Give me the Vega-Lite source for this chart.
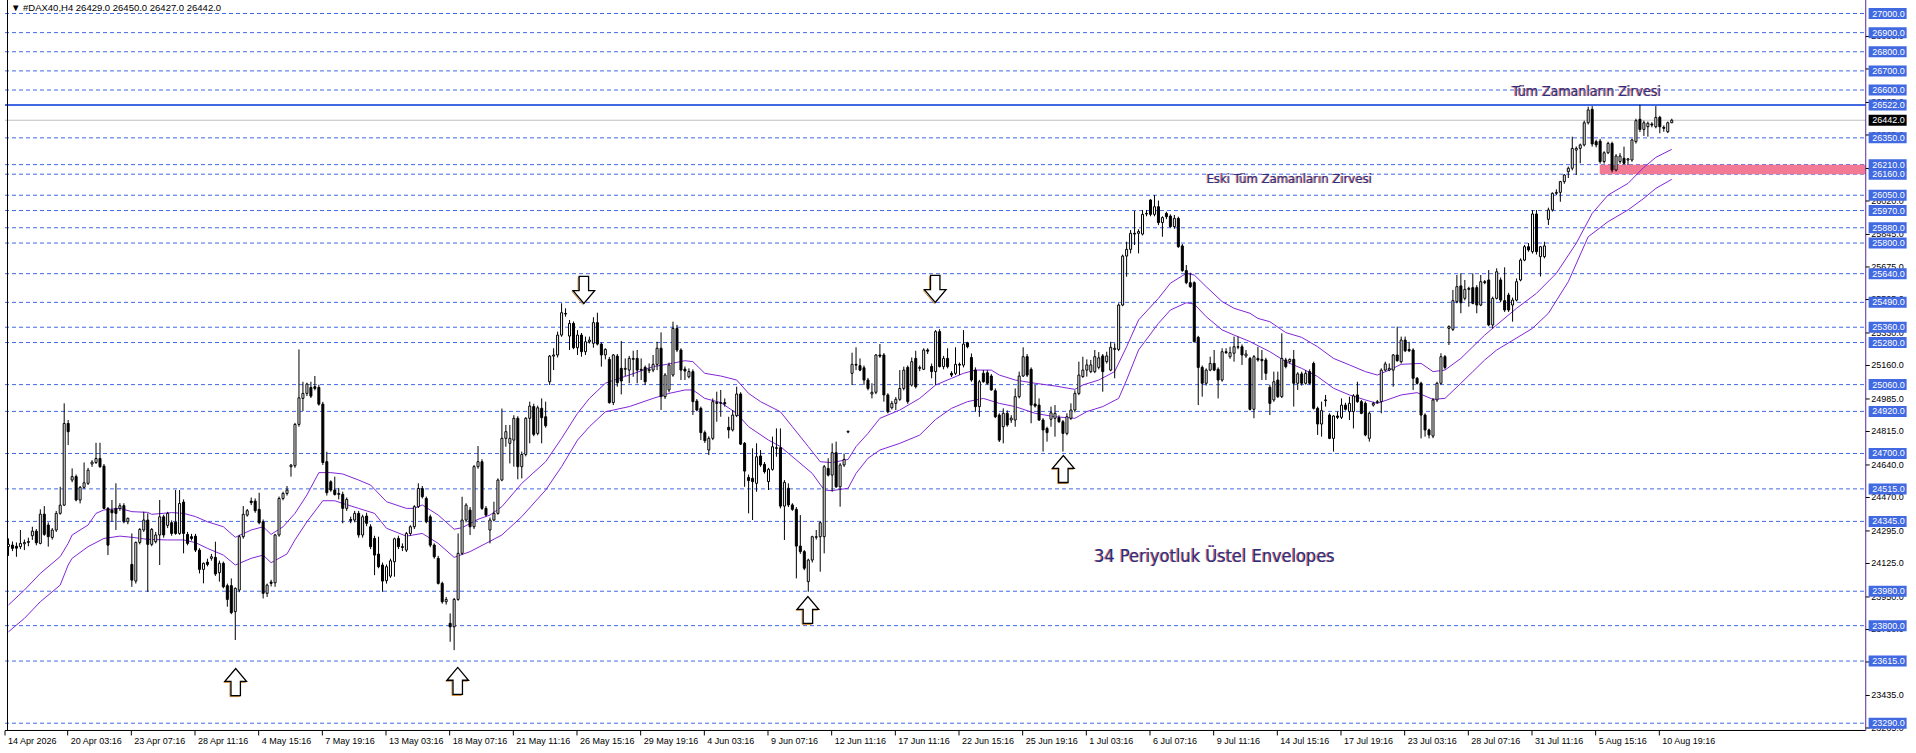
{
"$schema":"https://vega.github.io/schema/vega-lite/v6.json",
"width":1916,"height":731,
"autosize":{"type":"none"},
"padding":{"left":0,"top":0,"right":0,"bottom":22},
"background":"#ffffff",
"config":{"view":{"stroke":null}},
"datasets":{
"lv":[{"p":27000},{"p":26900},{"p":26800},{"p":26700},{"p":26600},{"p":26350},{"p":26210},{"p":26160},{"p":26050},{"p":25970},{"p":25880},{"p":25800},{"p":25640},{"p":25490},{"p":25360},{"p":25280},{"p":25060},{"p":24920},{"p":24700},{"p":24515},{"p":24345},{"p":23980},{"p":23800},{"p":23615},{"p":23290}],
"bx":[{"p":27000},{"p":26900},{"p":26800},{"p":26700},{"p":26600},{"p":26522},{"p":26350},{"p":26210},{"p":26160},{"p":26050},{"p":25970},{"p":25880},{"p":25800},{"p":25640},{"p":25490},{"p":25360},{"p":25280},{"p":25060},{"p":24920},{"p":24700},{"p":24515},{"p":24345},{"p":23980},{"p":23800},{"p":23615},{"p":23290}],
"tk":[{"p":23265},{"p":23435},{"p":23610},{"p":23780},{"p":23950},{"p":24125},{"p":24295},{"p":24470},{"p":24640},{"p":24815},{"p":24985},{"p":25160},{"p":25330},{"p":25505},{"p":25675},{"p":25845},{"p":26020},{"p":26190},{"p":26365},{"p":26535},{"p":26710},{"p":26880}],
"dates":[{"j":-0.875,"t":"14 Apr 2026"},{"j":14.875,"t":"20 Apr 03:16"},{"j":30.875,"t":"23 Apr 07:16"},{"j":46.875,"t":"28 Apr 11:16"},{"j":62.875,"t":"4 May 15:16"},{"j":78.875,"t":"7 May 19:16"},{"j":94.875,"t":"13 May 03:16"},{"j":110.875,"t":"18 May 07:16"},{"j":126.875,"t":"21 May 11:16"},{"j":142.875,"t":"26 May 15:16"},{"j":158.875,"t":"29 May 19:16"},{"j":174.875,"t":"4 Jun 03:16"},{"j":190.875,"t":"9 Jun 07:16"},{"j":206.875,"t":"12 Jun 11:16"},{"j":222.875,"t":"17 Jun 11:16"},{"j":238.875,"t":"22 Jun 15:16"},{"j":254.875,"t":"25 Jun 19:16"},{"j":270.875,"t":"1 Jul 03:16"},{"j":286.875,"t":"6 Jul 07:16"},{"j":302.875,"t":"9 Jul 11:16"},{"j":318.875,"t":"14 Jul 15:16"},{"j":334.875,"t":"17 Jul 19:16"},{"j":350.875,"t":"23 Jul 03:16"},{"j":366.875,"t":"28 Jul 07:16"},{"j":382.875,"t":"31 Jul 11:16"},{"j":398.875,"t":"5 Aug 15:16"},{"j":414.875,"t":"10 Aug 19:16"}],
"cur":[{"p":26442}],
"ath":[{"p":26522}],
"zone":[{"p":26160,"p2":26210}],
"arrows":[{"j":57.1,"p":23505,"d":"up"},{"j":112.9,"p":23511,"d":"up"},{"j":144.6,"p":25555,"d":"down"},{"j":200.9,"p":23882,"d":"up"},{"j":232.9,"p":25560,"d":"down"},{"j":265.1,"p":24619,"d":"up"}],
"notes":[{"j":396.6,"p":26590,"t":"Tüm Zamanların Zirvesi"}],
"notes1":[{"j":321.9,"p":26135,"t":"Eski Tüm Zamanların Zirvesi"}],
"notes2":[{"j":303.1,"p":24159,"t":"34 Periyotluk Üstel Envelopes"}],
"title":[{"j":0.625,"p":27028,"t":"▼ #DAX40,H4 26429.0 26450.0 26427.0 26442.0"}],
"envU":[{"j":0,"p":23908},{"j":4,"p":23986},{"j":8,"p":24073},{"j":13,"p":24161},{"j":15,"p":24230},{"j":16,"p":24274},{"j":20,"p":24326},{"j":22,"p":24387},{"j":24,"p":24405},{"j":28,"p":24413},{"j":31,"p":24396},{"j":35,"p":24392},{"j":36,"p":24382},{"j":41,"p":24391},{"j":44,"p":24387},{"j":47,"p":24370},{"j":50,"p":24343},{"j":54,"p":24317},{"j":57,"p":24262},{"j":61,"p":24300},{"j":64,"p":24317},{"j":66,"p":24277},{"j":69,"p":24317},{"j":72,"p":24387},{"j":75,"p":24483},{"j":78,"p":24600},{"j":81,"p":24600},{"j":84,"p":24593},{"j":88,"p":24561},{"j":91,"p":24535},{"j":95,"p":24448},{"j":100,"p":24413},{"j":102,"p":24413},{"j":104,"p":24431},{"j":108,"p":24378},{"j":112,"p":24304},{"j":114,"p":24312},{"j":118,"p":24356},{"j":121,"p":24378},{"j":124,"p":24422},{"j":129,"p":24544},{"j":135,"p":24657},{"j":139,"p":24779},{"j":143,"p":24910},{"j":146,"p":24988},{"j":150,"p":25067},{"j":151,"p":25075},{"j":156,"p":25110},{"j":162,"p":25154},{"j":166,"p":25168},{"j":170,"p":25185},{"j":172,"p":25180},{"j":175,"p":25119},{"j":179,"p":25105},{"j":183,"p":25084},{"j":186,"p":25014},{"j":189,"p":24971},{"j":194,"p":24918},{"j":197,"p":24840},{"j":201,"p":24736},{"j":204,"p":24657},{"j":207,"p":24652},{"j":211,"p":24669},{"j":213,"p":24736},{"j":216,"p":24805},{"j":219,"p":24884},{"j":224,"p":24927},{"j":229,"p":24988},{"j":233,"p":25058},{"j":237,"p":25093},{"j":240,"p":25119},{"j":243,"p":25136},{"j":247,"p":25136},{"j":249,"p":25110},{"j":253,"p":25084},{"j":258,"p":25067},{"j":263,"p":25053},{"j":268,"p":25035},{"j":270,"p":25058},{"j":274,"p":25084},{"j":278,"p":25128},{"j":281,"p":25258},{"j":284,"p":25398},{"j":289,"p":25511},{"j":292,"p":25590},{"j":296,"p":25642},{"j":298,"p":25633},{"j":301,"p":25572},{"j":305,"p":25494},{"j":308,"p":25459},{"j":312,"p":25433},{"j":314,"p":25406},{"j":317,"p":25389},{"j":321,"p":25332},{"j":325,"p":25307},{"j":329,"p":25258},{"j":333,"p":25197},{"j":337,"p":25163},{"j":341,"p":25128},{"j":344,"p":25110},{"j":347,"p":25136},{"j":350,"p":25166},{"j":355,"p":25171},{"j":358,"p":25128},{"j":361,"p":25136},{"j":365,"p":25197},{"j":368,"p":25258},{"j":371,"p":25319},{"j":374,"p":25372},{"j":379,"p":25459},{"j":384,"p":25537},{"j":389,"p":25642},{"j":394,"p":25799},{"j":398,"p":25955},{"j":402,"p":26051},{"j":407,"p":26112},{"j":411,"p":26196},{"j":414,"p":26248},{"j":418,"p":26290}],
"envL":[{"j":0,"p":23768},{"j":4,"p":23838},{"j":8,"p":23925},{"j":13,"p":24012},{"j":15,"p":24117},{"j":16,"p":24152},{"j":20,"p":24213},{"j":24,"p":24256},{"j":28,"p":24268},{"j":31,"p":24262},{"j":35,"p":24251},{"j":40,"p":24248},{"j":44,"p":24248},{"j":47,"p":24234},{"j":50,"p":24204},{"j":54,"p":24169},{"j":57,"p":24117},{"j":61,"p":24152},{"j":64,"p":24169},{"j":66,"p":24129},{"j":70,"p":24175},{"j":72,"p":24248},{"j":75,"p":24343},{"j":79,"p":24453},{"j":82,"p":24453},{"j":84,"p":24439},{"j":88,"p":24413},{"j":92,"p":24387},{"j":95,"p":24309},{"j":100,"p":24268},{"j":104,"p":24282},{"j":108,"p":24230},{"j":112,"p":24157},{"j":116,"p":24187},{"j":120,"p":24230},{"j":124,"p":24274},{"j":129,"p":24370},{"j":135,"p":24509},{"j":139,"p":24631},{"j":143,"p":24770},{"j":146,"p":24840},{"j":150,"p":24918},{"j":156,"p":24945},{"j":162,"p":24988},{"j":166,"p":25014},{"j":170,"p":25032},{"j":172,"p":25032},{"j":175,"p":24988},{"j":179,"p":24966},{"j":183,"p":24910},{"j":186,"p":24840},{"j":191,"p":24770},{"j":194,"p":24736},{"j":198,"p":24666},{"j":202,"p":24596},{"j":205,"p":24509},{"j":207,"p":24506},{"j":211,"p":24518},{"j":213,"p":24596},{"j":216,"p":24675},{"j":219,"p":24718},{"j":224,"p":24753},{"j":229,"p":24796},{"j":233,"p":24878},{"j":237,"p":24936},{"j":241,"p":24971},{"j":245,"p":24988},{"j":249,"p":24962},{"j":253,"p":24945},{"j":258,"p":24910},{"j":263,"p":24892},{"j":268,"p":24884},{"j":271,"p":24919},{"j":275,"p":24945},{"j":279,"p":24988},{"j":281,"p":25084},{"j":284,"p":25241},{"j":289,"p":25380},{"j":292,"p":25450},{"j":296,"p":25488},{"j":298,"p":25481},{"j":301,"p":25415},{"j":305,"p":25346},{"j":308,"p":25319},{"j":312,"p":25285},{"j":317,"p":25232},{"j":321,"p":25180},{"j":325,"p":25145},{"j":329,"p":25102},{"j":333,"p":25041},{"j":337,"p":25006},{"j":341,"p":24980},{"j":344,"p":24962},{"j":350,"p":25006},{"j":354,"p":25018},{"j":358,"p":24983},{"j":361,"p":24988},{"j":365,"p":25067},{"j":368,"p":25128},{"j":371,"p":25189},{"j":374,"p":25241},{"j":383,"p":25354},{"j":387,"p":25433},{"j":392,"p":25598},{"j":397,"p":25833},{"j":402,"p":25912},{"j":407,"p":25973},{"j":411,"p":26034},{"j":414,"p":26086},{"j":418,"p":26133}],
"bars":[
{"j":0,"o":24213,"h":24256,"l":24165,"c":24225},{"j":1,"o":24221,"h":24240,"l":24190,"c":24204},{"j":2,"o":24215,"h":24235,"l":24160,"c":24205},{"j":3,"o":24213,"h":24300,"l":24200,"c":24230},{"j":4,"o":24228,"h":24250,"l":24195,"c":24235},{"j":5,"o":24235,"h":24260,"l":24215,"c":24240},{"j":6,"o":24270,"h":24317,"l":24248,"c":24294},{"j":7,"o":24294,"h":24305,"l":24220,"c":24233},{"j":8,"o":24230,"h":24408,"l":24225,"c":24383},{"j":9,"o":24383,"h":24425,"l":24270,"c":24277},
{"j":10,"o":24326,"h":24340,"l":24213,"c":24265},{"j":11,"o":24261,"h":24310,"l":24250,"c":24300},{"j":12,"o":24300,"h":24400,"l":24290,"c":24387},{"j":13,"o":24387,"h":24526,"l":24380,"c":24430},{"j":14,"o":24430,"h":24962,"l":24425,"c":24857},{"j":15,"o":24857,"h":24875,"l":24744,"c":24814},{"j":16,"o":24561,"h":24622,"l":24550,"c":24579},{"j":17,"o":24579,"h":24590,"l":24450,"c":24457},{"j":18,"o":24457,"h":24530,"l":24439,"c":24523},{"j":19,"o":24523,"h":24653,"l":24515,"c":24547},
{"j":20,"o":24544,"h":24625,"l":24535,"c":24613},{"j":21,"o":24645,"h":24665,"l":24630,"c":24655},{"j":22,"o":24653,"h":24756,"l":24645,"c":24674},{"j":23,"o":24674,"h":24756,"l":24625,"c":24631},{"j":24,"o":24634,"h":24645,"l":24410,"c":24413},{"j":25,"o":24413,"h":24420,"l":24169,"c":24221},{"j":26,"o":24404,"h":24457,"l":24343,"c":24390},{"j":27,"o":24413,"h":24544,"l":24300,"c":24387},{"j":28,"o":24413,"h":24440,"l":24400,"c":24427},{"j":29,"o":24427,"h":24440,"l":24335,"c":24343},
{"j":30,"o":24343,"h":24365,"l":24330,"c":24361},{"j":31,"o":24120,"h":24282,"l":24003,"c":24038},{"j":32,"o":24033,"h":24240,"l":24020,"c":24235},{"j":33,"o":24235,"h":24310,"l":24225,"c":24303},{"j":34,"o":24300,"h":24396,"l":24290,"c":24352},{"j":35,"o":24352,"h":24387,"l":23977,"c":24225},{"j":36,"o":24225,"h":24310,"l":24215,"c":24303},{"j":37,"o":24239,"h":24290,"l":24230,"c":24274},{"j":38,"o":24274,"h":24457,"l":24117,"c":24369},{"j":39,"o":24369,"h":24380,"l":24260,"c":24274},
{"j":40,"o":24324,"h":24395,"l":24310,"c":24387},{"j":41,"o":24338,"h":24350,"l":24270,"c":24282},{"j":42,"o":24341,"h":24509,"l":24275,"c":24282},{"j":43,"o":24282,"h":24509,"l":24275,"c":24439},{"j":44,"o":24446,"h":24460,"l":24178,"c":24282},{"j":45,"o":24277,"h":24290,"l":24220,"c":24230},{"j":46,"o":24265,"h":24280,"l":24245,"c":24256},{"j":47,"o":24268,"h":24280,"l":24185,"c":24195},{"j":48,"o":24195,"h":24205,"l":24073,"c":24094},{"j":49,"o":24094,"h":24130,"l":24021,"c":24126},
{"j":50,"o":24132,"h":24150,"l":24110,"c":24120},{"j":51,"o":24152,"h":24175,"l":24140,"c":24160},{"j":52,"o":24157,"h":24239,"l":24060,"c":24070},{"j":53,"o":24077,"h":24140,"l":24030,"c":24126},{"j":54,"o":24126,"h":24135,"l":23995,"c":24003},{"j":55,"o":24009,"h":24020,"l":23899,"c":23937},{"j":56,"o":24009,"h":24047,"l":23860,"c":23868},{"j":57,"o":23873,"h":24000,"l":23725,"c":23995},{"j":58,"o":23986,"h":24275,"l":23975,"c":24265},{"j":59,"o":24265,"h":24425,"l":24255,"c":24382},
{"j":60,"o":24378,"h":24410,"l":24370,"c":24401},{"j":61,"o":24451,"h":24470,"l":24430,"c":24443},{"j":62,"o":24451,"h":24465,"l":24390,"c":24401},{"j":63,"o":24408,"h":24495,"l":24330,"c":24338},{"j":64,"o":24343,"h":24355,"l":23942,"c":23969},{"j":65,"o":23969,"h":24020,"l":23950,"c":24012},{"j":66,"o":24028,"h":24040,"l":24005,"c":24021},{"j":67,"o":24024,"h":24280,"l":24003,"c":24274},{"j":68,"o":24274,"h":24475,"l":24265,"c":24465},{"j":69,"o":24465,"h":24500,"l":24455,"c":24491},
{"j":70,"o":24491,"h":24530,"l":24480,"c":24509},{"j":71,"o":24631,"h":24645,"l":24579,"c":24639},{"j":72,"o":24636,"h":24860,"l":24625,"c":24852},{"j":73,"o":24852,"h":25244,"l":24840,"c":24991},{"j":74,"o":24988,"h":25075,"l":24922,"c":25014},{"j":75,"o":25014,"h":25070,"l":25000,"c":25063},{"j":76,"o":25045,"h":25075,"l":24990,"c":25000},{"j":77,"o":25049,"h":25105,"l":25030,"c":25040},{"j":78,"o":25045,"h":25060,"l":24950,"c":24958},{"j":79,"o":24958,"h":24970,"l":24640,"c":24653},
{"j":80,"o":24657,"h":24709,"l":24480,"c":24495},{"j":81,"o":24552,"h":24560,"l":24500,"c":24509},{"j":82,"o":24509,"h":24579,"l":24480,"c":24486},{"j":83,"o":24486,"h":24520,"l":24460,"c":24491},{"j":84,"o":24486,"h":24500,"l":24335,"c":24413},{"j":85,"o":24413,"h":24470,"l":24400,"c":24460},{"j":86,"o":24355,"h":24370,"l":24335,"c":24350},{"j":87,"o":24352,"h":24400,"l":24340,"c":24387},{"j":88,"o":24387,"h":24400,"l":24260,"c":24274},{"j":89,"o":24274,"h":24380,"l":24260,"c":24369},
{"j":90,"o":24373,"h":24390,"l":24320,"c":24335},{"j":91,"o":24317,"h":24330,"l":24200,"c":24213},{"j":92,"o":24256,"h":24270,"l":24064,"c":24169},{"j":93,"o":24174,"h":24265,"l":24100,"c":24108},{"j":94,"o":24117,"h":24130,"l":23977,"c":24033},{"j":95,"o":24035,"h":24120,"l":24020,"c":24108},{"j":96,"o":24059,"h":24150,"l":24050,"c":24139},{"j":97,"o":24134,"h":24260,"l":24056,"c":24254},{"j":98,"o":24256,"h":24270,"l":24200,"c":24213},{"j":99,"o":24213,"h":24230,"l":24190,"c":24209},
{"j":100,"o":24195,"h":24290,"l":24185,"c":24282},{"j":101,"o":24282,"h":24325,"l":24270,"c":24317},{"j":102,"o":24317,"h":24430,"l":24305,"c":24422},{"j":103,"o":24422,"h":24544,"l":24415,"c":24517},{"j":104,"o":24517,"h":24530,"l":24465,"c":24474},{"j":105,"o":24465,"h":24475,"l":24335,"c":24343},{"j":106,"o":24369,"h":24380,"l":24210,"c":24221},{"j":107,"o":24221,"h":24230,"l":24150,"c":24160},{"j":108,"o":24152,"h":24165,"l":24015,"c":24021},{"j":109,"o":24021,"h":24030,"l":23915,"c":23925},
{"j":110,"o":23925,"h":23950,"l":23910,"c":23937},{"j":111,"o":23812,"h":23864,"l":23716,"c":23794},{"j":112,"o":23794,"h":23945,"l":23672,"c":23937},{"j":113,"o":23937,"h":24282,"l":23930,"c":24178},{"j":114,"o":24178,"h":24474,"l":24170,"c":24352},{"j":115,"o":24352,"h":24440,"l":24340,"c":24430},{"j":116,"o":24404,"h":24420,"l":24274,"c":24317},{"j":117,"o":24317,"h":24640,"l":24305,"c":24631},{"j":118,"o":24631,"h":24739,"l":24620,"c":24657},{"j":119,"o":24657,"h":24670,"l":24405,"c":24413},
{"j":120,"o":24413,"h":24425,"l":24370,"c":24378},{"j":121,"o":24300,"h":24365,"l":24230,"c":24352},{"j":122,"o":24352,"h":24448,"l":24345,"c":24387},{"j":123,"o":24387,"h":24570,"l":24380,"c":24561},{"j":124,"o":24561,"h":24935,"l":24555,"c":24779},{"j":125,"o":24779,"h":24849,"l":24735,"c":24814},{"j":126,"o":24753,"h":24849,"l":24648,"c":24779},{"j":127,"o":24770,"h":24900,"l":24631,"c":24884},{"j":128,"o":24884,"h":24895,"l":24565,"c":24631},{"j":129,"o":24631,"h":24710,"l":24570,"c":24695},
{"j":130,"o":24695,"h":24890,"l":24685,"c":24884},{"j":131,"o":24884,"h":24971,"l":24753,"c":24948},{"j":132,"o":24945,"h":24960,"l":24790,"c":24800},{"j":133,"o":24805,"h":24950,"l":24795,"c":24939},{"j":134,"o":24936,"h":24988,"l":24753,"c":24887},{"j":135,"o":24892,"h":24971,"l":24835,"c":24845},{"j":136,"o":25075,"h":25215,"l":25058,"c":25209},{"j":137,"o":25209,"h":25250,"l":25136,"c":25215},{"j":138,"o":25215,"h":25337,"l":25202,"c":25319},{"j":139,"o":25319,"h":25485,"l":25310,"c":25436},
{"j":140,"o":25432,"h":25459,"l":25415,"c":25429},{"j":141,"o":25314,"h":25398,"l":25241,"c":25380},{"j":142,"o":25380,"h":25390,"l":25245,"c":25253},{"j":143,"o":25253,"h":25345,"l":25215,"c":25319},{"j":144,"o":25319,"h":25330,"l":25206,"c":25232},{"j":145,"o":25232,"h":25311,"l":25215,"c":25284},{"j":146,"o":25284,"h":25311,"l":25275,"c":25293},{"j":147,"o":25276,"h":25412,"l":25253,"c":25384},{"j":148,"o":25384,"h":25436,"l":25265,"c":25272},{"j":149,"o":25272,"h":25280,"l":25154,"c":25215},
{"j":150,"o":25215,"h":25250,"l":25192,"c":25244},{"j":151,"o":25192,"h":25205,"l":24960,"c":24966},{"j":152,"o":24966,"h":25220,"l":24953,"c":25215},{"j":153,"o":25209,"h":25220,"l":25049,"c":25070},{"j":154,"o":25145,"h":25288,"l":25009,"c":25079},{"j":155,"o":25140,"h":25197,"l":25105,"c":25145},{"j":156,"o":25136,"h":25210,"l":25067,"c":25197},{"j":157,"o":25192,"h":25237,"l":25101,"c":25197},{"j":158,"o":25197,"h":25241,"l":25067,"c":25136},{"j":159,"o":25140,"h":25197,"l":25084,"c":25136},
{"j":160,"o":25150,"h":25160,"l":25058,"c":25075},{"j":161,"o":25133,"h":25171,"l":25120,"c":25140},{"j":162,"o":25136,"h":25215,"l":25125,"c":25166},{"j":163,"o":25166,"h":25284,"l":25136,"c":25250},{"j":164,"o":25250,"h":25333,"l":24927,"c":24997},{"j":165,"o":24997,"h":25120,"l":24985,"c":25110},{"j":166,"o":25032,"h":25175,"l":25020,"c":25162},{"j":167,"o":25110,"h":25389,"l":25101,"c":25354},{"j":168,"o":25354,"h":25372,"l":25230,"c":25241},{"j":169,"o":25241,"h":25250,"l":25084,"c":25136},
{"j":170,"o":25141,"h":25155,"l":25084,"c":25131},{"j":171,"o":25101,"h":25145,"l":25093,"c":25128},{"j":172,"o":25128,"h":25140,"l":24901,"c":24971},{"j":173,"o":24974,"h":24985,"l":24920,"c":24927},{"j":174,"o":24936,"h":24945,"l":24770,"c":24809},{"j":175,"o":24809,"h":24820,"l":24755,"c":24767},{"j":176,"o":24718,"h":24790,"l":24692,"c":24779},{"j":177,"o":24779,"h":24988,"l":24770,"c":24971},{"j":178,"o":24966,"h":25023,"l":24866,"c":24962},{"j":179,"o":24962,"h":25032,"l":24892,"c":24966},
{"j":180,"o":24966,"h":24988,"l":24945,"c":24960},{"j":181,"o":24837,"h":24892,"l":24779,"c":24823},{"j":182,"o":24823,"h":24927,"l":24815,"c":24901},{"j":183,"o":24898,"h":25049,"l":24890,"c":25011},{"j":184,"o":25011,"h":25020,"l":24744,"c":24749},{"j":185,"o":24753,"h":24760,"l":24526,"c":24608},{"j":186,"o":24575,"h":24590,"l":24387,"c":24558},{"j":187,"o":24570,"h":24727,"l":24352,"c":24553},{"j":188,"o":24544,"h":24753,"l":24500,"c":24683},{"j":189,"o":24687,"h":24718,"l":24630,"c":24640},
{"j":190,"o":24643,"h":24655,"l":24595,"c":24605},{"j":191,"o":24553,"h":24625,"l":24509,"c":24617},{"j":192,"o":24617,"h":24788,"l":24610,"c":24735},{"j":193,"o":24730,"h":24831,"l":24683,"c":24727},{"j":194,"o":24730,"h":24831,"l":24413,"c":24425},{"j":195,"o":24425,"h":24561,"l":24248,"c":24549},{"j":196,"o":24518,"h":24544,"l":24420,"c":24431},{"j":197,"o":24431,"h":24440,"l":24400,"c":24408},{"j":198,"o":24408,"h":24420,"l":24047,"c":24216},{"j":199,"o":24216,"h":24378,"l":24175,"c":24187},
{"j":200,"o":24187,"h":24195,"l":24090,"c":24100},{"j":201,"o":24030,"h":24150,"l":23977,"c":24143},{"j":202,"o":24143,"h":24270,"l":24130,"c":24265},{"j":203,"o":24262,"h":24300,"l":24250,"c":24265},{"j":204,"o":24265,"h":24345,"l":24082,"c":24338},{"j":205,"o":24265,"h":24640,"l":24178,"c":24631},{"j":206,"o":24622,"h":24675,"l":24580,"c":24587},{"j":207,"o":24587,"h":24753,"l":24500,"c":24704},{"j":208,"o":24704,"h":24762,"l":24520,"c":24526},{"j":209,"o":24526,"h":24650,"l":24422,"c":24640},
{"j":210,"o":24640,"h":24700,"l":24630,"c":24669},{"j":211,"o":24812,"h":24820,"l":24806,"c":24816},{"j":212,"o":25119,"h":25227,"l":25058,"c":25166},{"j":213,"o":25166,"h":25255,"l":25136,"c":25162},{"j":214,"o":25159,"h":25197,"l":25130,"c":25136},{"j":215,"o":25148,"h":25160,"l":25058,"c":25084},{"j":216,"o":25084,"h":25095,"l":25030,"c":25040},{"j":217,"o":25011,"h":25067,"l":24988,"c":25020},{"j":218,"o":25020,"h":25220,"l":25010,"c":25215},{"j":219,"o":25215,"h":25272,"l":25200,"c":25209},
{"j":220,"o":25215,"h":25225,"l":24971,"c":25006},{"j":221,"o":25006,"h":25015,"l":24910,"c":24918},{"j":222,"o":24939,"h":24975,"l":24930,"c":24962},{"j":223,"o":24962,"h":24995,"l":24927,"c":24983},{"j":224,"o":24983,"h":25136,"l":24975,"c":25040},{"j":225,"o":25040,"h":25154,"l":25030,"c":25136},{"j":226,"o":25150,"h":25160,"l":24960,"c":24971},{"j":227,"o":25058,"h":25202,"l":25050,"c":25180},{"j":228,"o":25197,"h":25237,"l":25040,"c":25049},{"j":229,"o":25145,"h":25160,"l":25130,"c":25150},
{"j":230,"o":25140,"h":25250,"l":25136,"c":25241},{"j":231,"o":25241,"h":25250,"l":25220,"c":25235},{"j":232,"o":25155,"h":25170,"l":25093,"c":25128},{"j":233,"o":25128,"h":25345,"l":25058,"c":25337},{"j":234,"o":25337,"h":25350,"l":25150,"c":25154},{"j":235,"o":25154,"h":25210,"l":25140,"c":25197},{"j":236,"o":25197,"h":25250,"l":25145,"c":25154},{"j":237,"o":25119,"h":25130,"l":25100,"c":25110},{"j":238,"o":25119,"h":25255,"l":25110,"c":25166},{"j":239,"o":25166,"h":25175,"l":25110,"c":25162},
{"j":240,"o":25162,"h":25345,"l":25150,"c":25272},{"j":241,"o":25279,"h":25284,"l":25250,"c":25258},{"j":242,"o":25202,"h":25223,"l":25075,"c":25084},{"j":243,"o":25136,"h":25150,"l":24918,"c":24945},{"j":244,"o":24945,"h":25085,"l":24892,"c":25075},{"j":245,"o":25119,"h":25136,"l":25070,"c":25075},{"j":246,"o":25122,"h":25135,"l":25060,"c":25067},{"j":247,"o":25105,"h":25115,"l":25028,"c":25032},{"j":248,"o":25028,"h":25040,"l":24885,"c":24892},{"j":249,"o":24901,"h":24910,"l":24760,"c":24770},
{"j":250,"o":24840,"h":24936,"l":24753,"c":24910},{"j":251,"o":24910,"h":24925,"l":24840,"c":24849},{"j":252,"o":24875,"h":24900,"l":24860,"c":24885},{"j":253,"o":24875,"h":25040,"l":24840,"c":24997},{"j":254,"o":24997,"h":25128,"l":24988,"c":25105},{"j":255,"o":25105,"h":25255,"l":25100,"c":25206},{"j":256,"o":25206,"h":25220,"l":25100,"c":25110},{"j":257,"o":25140,"h":25150,"l":24858,"c":24953},{"j":258,"o":24959,"h":25058,"l":24940,"c":24948},{"j":259,"o":24953,"h":24988,"l":24870,"c":24875},
{"j":260,"o":24875,"h":24885,"l":24710,"c":24823},{"j":261,"o":24831,"h":24840,"l":24762,"c":24809},{"j":262,"o":24879,"h":24945,"l":24840,"c":24913},{"j":263,"o":24884,"h":24953,"l":24788,"c":24910},{"j":264,"o":24887,"h":24900,"l":24860,"c":24866},{"j":265,"o":24866,"h":24875,"l":24710,"c":24805},{"j":266,"o":24805,"h":24910,"l":24795,"c":24892},{"j":267,"o":24884,"h":24962,"l":24875,"c":24927},{"j":268,"o":24927,"h":25030,"l":24915,"c":25014},{"j":269,"o":25014,"h":25180,"l":25005,"c":25110},
{"j":270,"o":25102,"h":25206,"l":25095,"c":25136},{"j":271,"o":25136,"h":25192,"l":25102,"c":25163},{"j":272,"o":25128,"h":25189,"l":25120,"c":25163},{"j":273,"o":25128,"h":25241,"l":25120,"c":25206},{"j":274,"o":25150,"h":25230,"l":25140,"c":25200},{"j":275,"o":25210,"h":25220,"l":25023,"c":25128},{"j":276,"o":25180,"h":25232,"l":25170,"c":25210},{"j":277,"o":25136,"h":25284,"l":25130,"c":25255},{"j":278,"o":25244,"h":25276,"l":25093,"c":25250},{"j":279,"o":25244,"h":25485,"l":25235,"c":25476},
{"j":280,"o":25476,"h":25740,"l":25470,"c":25732},{"j":281,"o":25732,"h":25807,"l":25624,"c":25767},{"j":282,"o":25767,"h":25868,"l":25746,"c":25851},{"j":283,"o":25851,"h":25968,"l":25790,"c":25847},{"j":284,"o":25851,"h":25872,"l":25746,"c":25860},{"j":285,"o":25847,"h":25973,"l":25840,"c":25950},{"j":286,"o":25952,"h":25973,"l":25940,"c":25955},{"j":287,"o":26025,"h":26030,"l":25940,"c":25950},{"j":288,"o":25950,"h":26051,"l":25940,"c":25990},{"j":289,"o":25990,"h":26022,"l":25894,"c":25907},
{"j":290,"o":25907,"h":25940,"l":25833,"c":25933},{"j":291,"o":25955,"h":25964,"l":25925,"c":25938},{"j":292,"o":25941,"h":25950,"l":25880,"c":25886},{"j":293,"o":25886,"h":25947,"l":25875,"c":25929},{"j":294,"o":25929,"h":25938,"l":25775,"c":25781},{"j":295,"o":25785,"h":25795,"l":25650,"c":25656},{"j":296,"o":25656,"h":25685,"l":25585,"c":25593},{"j":297,"o":25593,"h":25645,"l":25565,"c":25572},{"j":298,"o":25593,"h":25600,"l":25280,"c":25284},{"j":299,"o":25307,"h":25315,"l":24953,"c":25150},
{"j":300,"o":25150,"h":25160,"l":24997,"c":25067},{"j":301,"o":25067,"h":25145,"l":25055,"c":25136},{"j":302,"o":25136,"h":25206,"l":25130,"c":25171},{"j":303,"o":25171,"h":25241,"l":25130,"c":25136},{"j":304,"o":25140,"h":25150,"l":24988,"c":25084},{"j":305,"o":25084,"h":25250,"l":25075,"c":25232},{"j":306,"o":25232,"h":25250,"l":25220,"c":25227},{"j":307,"o":25206,"h":25258,"l":25195,"c":25227},{"j":308,"o":25224,"h":25311,"l":25180,"c":25258},{"j":309,"o":25258,"h":25311,"l":25245,"c":25256},
{"j":310,"o":25258,"h":25270,"l":25163,"c":25215},{"j":311,"o":25210,"h":25241,"l":25200,"c":25220},{"j":312,"o":25197,"h":25205,"l":24925,"c":24931},{"j":313,"o":24931,"h":25215,"l":24884,"c":25206},{"j":314,"o":25197,"h":25258,"l":25180,"c":25189},{"j":315,"o":25192,"h":25241,"l":25084,"c":25185},{"j":316,"o":25189,"h":25200,"l":25084,"c":25119},{"j":317,"o":25046,"h":25060,"l":24901,"c":24962},{"j":318,"o":24980,"h":25128,"l":24970,"c":25075},{"j":319,"o":25084,"h":25128,"l":24990,"c":24997},
{"j":320,"o":24997,"h":25328,"l":24990,"c":25197},{"j":321,"o":25189,"h":25200,"l":25145,"c":25154},{"j":322,"o":25180,"h":25197,"l":25170,"c":25192},{"j":323,"o":25192,"h":25241,"l":24945,"c":25067},{"j":324,"o":25067,"h":25125,"l":25032,"c":25116},{"j":325,"o":25116,"h":25128,"l":25055,"c":25067},{"j":326,"o":25067,"h":25136,"l":25060,"c":25119},{"j":327,"o":25128,"h":25140,"l":25060,"c":25067},{"j":328,"o":25171,"h":25180,"l":24930,"c":24936},{"j":329,"o":24936,"h":24945,"l":24797,"c":24854},
{"j":330,"o":24854,"h":24971,"l":24788,"c":24924},{"j":331,"o":24976,"h":25006,"l":24945,"c":24980},{"j":332,"o":24901,"h":24910,"l":24775,"c":24779},{"j":333,"o":24779,"h":24900,"l":24710,"c":24896},{"j":334,"o":24896,"h":24919,"l":24880,"c":24889},{"j":335,"o":24889,"h":24988,"l":24880,"c":24953},{"j":336,"o":24953,"h":24965,"l":24925,"c":24931},{"j":337,"o":24919,"h":24997,"l":24875,"c":24962},{"j":338,"o":24919,"h":25010,"l":24831,"c":25001},{"j":339,"o":25006,"h":25075,"l":24965,"c":24971},
{"j":340,"o":24971,"h":24980,"l":24905,"c":24910},{"j":341,"o":24962,"h":24972,"l":24790,"c":24797},{"j":342,"o":24779,"h":24920,"l":24762,"c":24910},{"j":343,"o":24953,"h":24970,"l":24945,"c":24962},{"j":344,"o":24966,"h":24980,"l":24960,"c":24971},{"j":345,"o":24971,"h":25145,"l":24910,"c":25136},{"j":346,"o":25136,"h":25180,"l":25130,"c":25168},{"j":347,"o":25136,"h":25171,"l":25130,"c":25145},{"j":348,"o":25136,"h":25220,"l":25049,"c":25215},{"j":349,"o":25215,"h":25363,"l":25180,"c":25185},
{"j":350,"o":25180,"h":25311,"l":25170,"c":25293},{"j":351,"o":25293,"h":25311,"l":25230,"c":25237},{"j":352,"o":25244,"h":25284,"l":25230,"c":25237},{"j":353,"o":25241,"h":25250,"l":25032,"c":25093},{"j":354,"o":25093,"h":25100,"l":25060,"c":25067},{"j":355,"o":25067,"h":25075,"l":24779,"c":24901},{"j":356,"o":24901,"h":24910,"l":24788,"c":24823},{"j":357,"o":24823,"h":24830,"l":24779,"c":24797},{"j":358,"o":24791,"h":24990,"l":24780,"c":24980},{"j":359,"o":24980,"h":25075,"l":24970,"c":25067},
{"j":360,"o":25067,"h":25224,"l":25060,"c":25206},{"j":361,"o":25206,"h":25215,"l":25140,"c":25150},{"j":362,"o":25354,"h":25370,"l":25267,"c":25363},{"j":363,"o":25349,"h":25555,"l":25340,"c":25499},{"j":364,"o":25494,"h":25633,"l":25485,"c":25572},{"j":365,"o":25576,"h":25642,"l":25433,"c":25488},{"j":366,"o":25511,"h":25607,"l":25500,"c":25558},{"j":367,"o":25558,"h":25572,"l":25467,"c":25563},{"j":368,"o":25567,"h":25642,"l":25480,"c":25485},{"j":369,"o":25567,"h":25580,"l":25433,"c":25476},
{"j":370,"o":25476,"h":25633,"l":25470,"c":25598},{"j":371,"o":25598,"h":25607,"l":25585,"c":25593},{"j":372,"o":25607,"h":25659,"l":25365,"c":25372},{"j":373,"o":25372,"h":25520,"l":25354,"c":25511},{"j":374,"o":25511,"h":25668,"l":25505,"c":25650},{"j":375,"o":25607,"h":25620,"l":25490,"c":25502},{"j":376,"o":25499,"h":25673,"l":25440,"c":25450},{"j":377,"o":25528,"h":25540,"l":25440,"c":25450},{"j":378,"o":25476,"h":25515,"l":25389,"c":25502},{"j":379,"o":25502,"h":25615,"l":25495,"c":25598},
{"j":380,"o":25607,"h":25720,"l":25600,"c":25711},{"j":381,"o":25711,"h":25790,"l":25705,"c":25781},{"j":382,"o":25781,"h":25800,"l":25755,"c":25764},{"j":383,"o":25755,"h":25973,"l":25745,"c":25952},{"j":384,"o":25952,"h":25973,"l":25740,"c":25755},{"j":385,"o":25729,"h":25785,"l":25625,"c":25781},{"j":386,"o":25729,"h":25807,"l":25720,"c":25785},{"j":387,"o":25924,"h":25985,"l":25894,"c":25973},{"j":388,"o":25973,"h":26065,"l":25965,"c":26060},{"j":389,"o":26060,"h":26081,"l":26050,"c":26065},
{"j":390,"o":26065,"h":26125,"l":26016,"c":26121},{"j":391,"o":26121,"h":26160,"l":26110,"c":26156},{"j":392,"o":26173,"h":26200,"l":26140,"c":26191},{"j":393,"o":26191,"h":26356,"l":26180,"c":26295},{"j":394,"o":26286,"h":26305,"l":26156,"c":26295},{"j":395,"o":26295,"h":26320,"l":26217,"c":26313},{"j":396,"o":26313,"h":26440,"l":26305,"c":26429},{"j":397,"o":26429,"h":26513,"l":26420,"c":26496},{"j":398,"o":26499,"h":26516,"l":26304,"c":26318},{"j":399,"o":26330,"h":26340,"l":26300,"c":26313},
{"j":400,"o":26333,"h":26345,"l":26215,"c":26226},{"j":401,"o":26226,"h":26280,"l":26215,"c":26272},{"j":402,"o":26272,"h":26330,"l":26265,"c":26321},{"j":403,"o":26321,"h":26330,"l":26170,"c":26182},{"j":404,"o":26182,"h":26265,"l":26175,"c":26255},{"j":405,"o":26226,"h":26270,"l":26215,"c":26255},{"j":406,"o":26243,"h":26304,"l":26210,"c":26217},{"j":407,"o":26234,"h":26245,"l":26208,"c":26240},{"j":408,"o":26234,"h":26345,"l":26225,"c":26339},{"j":409,"o":26330,"h":26450,"l":26320,"c":26440},
{"j":410,"o":26447,"h":26522,"l":26380,"c":26394},{"j":411,"o":26394,"h":26440,"l":26360,"c":26429},{"j":412,"o":26408,"h":26435,"l":26356,"c":26426},{"j":413,"o":26422,"h":26432,"l":26405,"c":26417},{"j":414,"o":26408,"h":26516,"l":26400,"c":26457},{"j":415,"o":26457,"h":26465,"l":26374,"c":26408},{"j":416,"o":26405,"h":26415,"l":26382,"c":26400},{"j":417,"o":26382,"h":26435,"l":26375,"c":26429},{"j":418,"o":26429,"h":26450,"l":26427,"c":26442}
]
},
"layer":[
{"data":{"name":"lv"},"mark":{"type":"rule","color":"#4169E1","strokeWidth":1,"strokeDash":[4,3]},
 "encoding":{"x":{"datum":-0.875,"type":"quantitative","scale":{"domain":[-0.875,478.125],"nice":false,"zero":false},"axis":null},"x2":{"datum":466.75},
 "y":{"field":"p","type":"quantitative","scale":{"domain":[23249.3,27070.6],"nice":false,"zero":false},"axis":null}}},
{"data":{"name":"cur"},"mark":{"type":"rule","color":"#c0c0c0","strokeWidth":1},
 "encoding":{"x":{"datum":-0.875,"type":"quantitative","scale":{"domain":[-0.875,478.125],"nice":false,"zero":false},"axis":null},"x2":{"datum":466.75},
 "y":{"field":"p","type":"quantitative","scale":{"domain":[23249.3,27070.6],"nice":false,"zero":false},"axis":null}}},
{"data":{"name":"ath"},"mark":{"type":"rule","color":"#4169E1","strokeWidth":2},
 "encoding":{"x":{"datum":-0.875,"type":"quantitative","scale":{"domain":[-0.875,478.125],"nice":false,"zero":false},"axis":null},"x2":{"datum":466.75},
 "y":{"field":"p","type":"quantitative","scale":{"domain":[23249.3,27070.6],"nice":false,"zero":false},"axis":null}}},
{"data":{"name":"zone"},"mark":{"type":"rect","color":"#f27a94","opacity":1},
 "encoding":{"x":{"datum":399.9,"type":"quantitative","scale":{"domain":[-0.875,478.125],"nice":false,"zero":false},"axis":null},"x2":{"datum":466.75},
 "y":{"field":"p","type":"quantitative","scale":{"domain":[23249.3,27070.6],"nice":false,"zero":false},"axis":null},"y2":{"field":"p2"}}},
{"data":{"name":"envU"},"mark":{"type":"line","color":"#8226d8","strokeWidth":1},
 "encoding":{"x":{"field":"j","type":"quantitative","scale":{"domain":[-0.875,478.125],"nice":false,"zero":false},"axis":null},
 "y":{"field":"p","type":"quantitative","scale":{"domain":[23249.3,27070.6],"nice":false,"zero":false},"axis":null}}},
{"data":{"name":"envL"},"mark":{"type":"line","color":"#8226d8","strokeWidth":1},
 "encoding":{"x":{"field":"j","type":"quantitative","scale":{"domain":[-0.875,478.125],"nice":false,"zero":false},"axis":null},
 "y":{"field":"p","type":"quantitative","scale":{"domain":[23249.3,27070.6],"nice":false,"zero":false},"axis":null}}},
{"data":{"name":"bars"},"mark":{"type":"rule","color":"#000000","strokeWidth":1},
 "encoding":{"x":{"field":"j","type":"quantitative","scale":{"domain":[-0.875,478.125],"nice":false,"zero":false},"axis":null},
 "y":{"field":"l","type":"quantitative","scale":{"domain":[23249.3,27070.6],"nice":false,"zero":false},"axis":null},"y2":{"field":"h"}}},
{"data":{"name":"bars"},"mark":{"type":"bar","width":2,"stroke":"#000000","strokeWidth":1},
 "encoding":{"x":{"field":"j","type":"quantitative","scale":{"domain":[-0.875,478.125],"nice":false,"zero":false},"axis":null},
 "y":{"field":"o","type":"quantitative","scale":{"domain":[23249.3,27070.6],"nice":false,"zero":false},"axis":null},"y2":{"field":"c"},
 "fill":{"condition":{"test":"datum.c>=datum.o","value":"#ffffff"},"value":"#000000"}}},
{"data":{"name":"arrows"},"mark":{"type":"point","filled":false,"size":729,"stroke":"#d08a3a","strokeWidth":1,"opacity":1,"xOffset":-1,"yOffset":1},
 "encoding":{"x":{"field":"j","type":"quantitative","scale":{"domain":[-0.875,478.125],"nice":false,"zero":false},"axis":null},
 "y":{"field":"p","type":"quantitative","scale":{"domain":[23249.3,27070.6],"nice":false,"zero":false},"axis":null},
 "shape":{"field":"d","type":"nominal","scale":{"domain":["up","down"],"range":["M-0.35,1L0.35,1L0.35,-0.05L0.8,-0.05L0,-1L-0.8,-0.05L-0.35,-0.05Z","M-0.35,-1L0.35,-1L0.35,0.05L0.8,0.05L0,1L-0.8,0.05L-0.35,0.05Z"]},"legend":null}}},
{"data":{"name":"arrows"},"mark":{"type":"point","filled":true,"size":729,"fill":"#ffffff","stroke":"#000000","strokeWidth":1.3,"opacity":1},
 "encoding":{"x":{"field":"j","type":"quantitative","scale":{"domain":[-0.875,478.125],"nice":false,"zero":false},"axis":null},
 "y":{"field":"p","type":"quantitative","scale":{"domain":[23249.3,27070.6],"nice":false,"zero":false},"axis":null},
 "shape":{"field":"d","type":"nominal","scale":{"domain":["up","down"],"range":["M-0.35,1L0.35,1L0.35,-0.05L0.8,-0.05L0,-1L-0.8,-0.05L-0.35,-0.05Z","M-0.35,-1L0.35,-1L0.35,0.05L0.8,0.05L0,1L-0.8,0.05L-0.35,0.05Z"]},"legend":null}}},
{"data":{"name":"notes"},"mark":{"type":"text","font":"Liberation Sans Narrow, DejaVu Sans Condensed, Liberation Sans","fontSize":14,"color":"#d46a6a","align":"center","baseline":"middle","dx":-1},
 "encoding":{"x":{"field":"j","type":"quantitative","scale":{"domain":[-0.875,478.125],"nice":false,"zero":false},"axis":null},
 "y":{"field":"p","type":"quantitative","scale":{"domain":[23249.3,27070.6],"nice":false,"zero":false},"axis":null},"text":{"field":"t"}}},
{"data":{"name":"notes"},"mark":{"type":"text","font":"Liberation Sans Narrow, DejaVu Sans Condensed, Liberation Sans","fontSize":14,"color":"#283080","align":"center","baseline":"middle"},
 "encoding":{"x":{"field":"j","type":"quantitative","scale":{"domain":[-0.875,478.125],"nice":false,"zero":false},"axis":null},
 "y":{"field":"p","type":"quantitative","scale":{"domain":[23249.3,27070.6],"nice":false,"zero":false},"axis":null},"text":{"field":"t"}}},
{"data":{"name":"notes1"},"mark":{"type":"text","font":"Liberation Sans Narrow, DejaVu Sans Condensed, Liberation Sans","fontSize":13,"color":"#d46a6a","align":"center","baseline":"middle","dx":-1},
 "encoding":{"x":{"field":"j","type":"quantitative","scale":{"domain":[-0.875,478.125],"nice":false,"zero":false},"axis":null},
 "y":{"field":"p","type":"quantitative","scale":{"domain":[23249.3,27070.6],"nice":false,"zero":false},"axis":null},"text":{"field":"t"}}},
{"data":{"name":"notes1"},"mark":{"type":"text","font":"Liberation Sans Narrow, DejaVu Sans Condensed, Liberation Sans","fontSize":13,"color":"#283080","align":"center","baseline":"middle"},
 "encoding":{"x":{"field":"j","type":"quantitative","scale":{"domain":[-0.875,478.125],"nice":false,"zero":false},"axis":null},
 "y":{"field":"p","type":"quantitative","scale":{"domain":[23249.3,27070.6],"nice":false,"zero":false},"axis":null},"text":{"field":"t"}}},
{"data":{"name":"notes2"},"mark":{"type":"text","font":"Liberation Sans Narrow, DejaVu Sans Condensed, Liberation Sans","fontSize":18,"color":"#d46a6a","align":"center","baseline":"middle","dx":-1},
 "encoding":{"x":{"field":"j","type":"quantitative","scale":{"domain":[-0.875,478.125],"nice":false,"zero":false},"axis":null},
 "y":{"field":"p","type":"quantitative","scale":{"domain":[23249.3,27070.6],"nice":false,"zero":false},"axis":null},"text":{"field":"t"}}},
{"data":{"name":"notes2"},"mark":{"type":"text","font":"Liberation Sans Narrow, DejaVu Sans Condensed, Liberation Sans","fontSize":18,"color":"#283080","align":"center","baseline":"middle"},
 "encoding":{"x":{"field":"j","type":"quantitative","scale":{"domain":[-0.875,478.125],"nice":false,"zero":false},"axis":null},
 "y":{"field":"p","type":"quantitative","scale":{"domain":[23249.3,27070.6],"nice":false,"zero":false},"axis":null},"text":{"field":"t"}}},
{"data":{"name":"title"},"mark":{"type":"text","font":"Liberation Sans","fontSize":9.5,"color":"#000000","align":"left","baseline":"middle"},
 "encoding":{"x":{"field":"j","type":"quantitative","scale":{"domain":[-0.875,478.125],"nice":false,"zero":false},"axis":null},
 "y":{"field":"p","type":"quantitative","scale":{"domain":[23249.3,27070.6],"nice":false,"zero":false},"axis":null},"text":{"field":"t"}}},
{"data":{"name":"cur"},"mark":{"type":"rule","color":"#000000","strokeWidth":1},
 "encoding":{"x":{"datum":-0.25,"type":"quantitative","scale":{"domain":[-0.875,478.125],"nice":false,"zero":false},"axis":null},
 "y":{"datum":23249.3,"type":"quantitative","scale":{"domain":[23249.3,27070.6],"nice":false,"zero":false},"axis":null},"y2":{"datum":27070.6}}},
{"data":{"name":"cur"},"mark":{"type":"rule","color":"#000000","strokeWidth":1},
 "encoding":{"x":{"datum":-0.875,"type":"quantitative","scale":{"domain":[-0.875,478.125],"nice":false,"zero":false},"axis":null},"x2":{"datum":466.75},
 "y":{"datum":23252,"type":"quantitative","scale":{"domain":[23249.3,27070.6],"nice":false,"zero":false},"axis":null}}},
{"data":{"name":"cur"},"mark":{"type":"rule","color":"#5a2a9a","strokeWidth":1},
 "encoding":{"x":{"datum":466.75,"type":"quantitative","scale":{"domain":[-0.875,478.125],"nice":false,"zero":false},"axis":null},
 "y":{"datum":23249.3,"type":"quantitative","scale":{"domain":[23249.3,27070.6],"nice":false,"zero":false},"axis":null},"y2":{"datum":27070.6}}},
{"data":{"name":"dates"},"mark":{"type":"rule","color":"#000000","strokeWidth":1},
 "encoding":{"x":{"field":"j","type":"quantitative","scale":{"domain":[-0.875,478.125],"nice":false,"zero":false},"axis":null},
 "y":{"datum":23251,"type":"quantitative","scale":{"domain":[23249.3,27070.6],"nice":false,"zero":false},"axis":null},"y2":{"datum":23226}}},
{"data":{"name":"dates"},"mark":{"type":"text","font":"Liberation Sans","fontSize":9,"color":"#000000","align":"left","baseline":"middle","dx":3},
 "encoding":{"x":{"field":"j","type":"quantitative","scale":{"domain":[-0.875,478.125],"nice":false,"zero":false},"axis":null},
 "y":{"datum":23196,"type":"quantitative","scale":{"domain":[23249.3,27070.6],"nice":false,"zero":false},"axis":null},"text":{"field":"t"}}},
{"data":{"name":"tk"},"mark":{"type":"rule","color":"#000000","strokeWidth":1},
 "encoding":{"x":{"datum":466.75,"type":"quantitative","scale":{"domain":[-0.875,478.125],"nice":false,"zero":false},"axis":null},"x2":{"datum":467.75},
 "y":{"field":"p","type":"quantitative","scale":{"domain":[23249.3,27070.6],"nice":false,"zero":false},"axis":null}}},
{"data":{"name":"tk"},"mark":{"type":"text","font":"Liberation Sans","fontSize":9,"color":"#000000","align":"left","baseline":"middle"},
 "encoding":{"x":{"datum":468.125,"type":"quantitative","scale":{"domain":[-0.875,478.125],"nice":false,"zero":false},"axis":null},
 "y":{"field":"p","type":"quantitative","scale":{"domain":[23249.3,27070.6],"nice":false,"zero":false},"axis":null},"text":{"field":"p","type":"quantitative","format":".1f"}}},
{"data":{"name":"bx"},"mark":{"type":"tick","orient":"horizontal","size":38,"thickness":11,"color":"#4169E1","opacity":1},
 "encoding":{"x":{"datum":472.25,"type":"quantitative","scale":{"domain":[-0.875,478.125],"nice":false,"zero":false},"axis":null},
 "y":{"field":"p","type":"quantitative","scale":{"domain":[23249.3,27070.6],"nice":false,"zero":false},"axis":null}}},
{"data":{"name":"bx"},"mark":{"type":"text","font":"Liberation Sans","fontSize":9,"color":"#ffffff","align":"left","baseline":"middle"},
 "encoding":{"x":{"datum":468.375,"type":"quantitative","scale":{"domain":[-0.875,478.125],"nice":false,"zero":false},"axis":null},
 "y":{"field":"p","type":"quantitative","scale":{"domain":[23249.3,27070.6],"nice":false,"zero":false},"axis":null},"text":{"field":"p","type":"quantitative","format":".1f"}}},
{"data":{"name":"cur"},"mark":{"type":"tick","orient":"horizontal","size":38,"thickness":11,"color":"#000000","opacity":1},
 "encoding":{"x":{"datum":472.25,"type":"quantitative","scale":{"domain":[-0.875,478.125],"nice":false,"zero":false},"axis":null},
 "y":{"field":"p","type":"quantitative","scale":{"domain":[23249.3,27070.6],"nice":false,"zero":false},"axis":null}}},
{"data":{"name":"cur"},"mark":{"type":"text","font":"Liberation Sans","fontSize":9,"color":"#ffffff","align":"left","baseline":"middle"},
 "encoding":{"x":{"datum":468.375,"type":"quantitative","scale":{"domain":[-0.875,478.125],"nice":false,"zero":false},"axis":null},
 "y":{"field":"p","type":"quantitative","scale":{"domain":[23249.3,27070.6],"nice":false,"zero":false},"axis":null},"text":{"field":"p","type":"quantitative","format":".1f"}}}
]
}
